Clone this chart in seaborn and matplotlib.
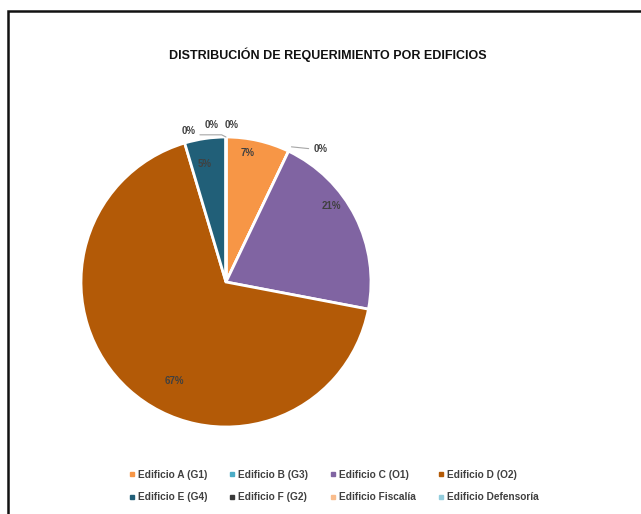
import numpy as np
import matplotlib
matplotlib.use("Agg")
import matplotlib.pyplot as plt
from matplotlib.lines import Line2D
from matplotlib.patches import Rectangle
import seaborn as sns

# ---- data ----
categories = ["Edificio A (G1)", "Edificio B (G3)", "Edificio C (O1)", "Edificio D (O2)",
              "Edificio E (G4)", "Edificio F (G2)", "Edificio Fiscalía", "Edificio Defensoría"]
shares = [7.1, 0.0, 20.9, 67.4, 4.6, 0.0, 0.0, 0.0]
colors = ["#F79646", "#4BACC6", "#8064A2", "#B35A07",
          "#215F78", "#3A3A3A", "#F9BC8C", "#93CDDD"]
title = "DISTRIBUCIÓN DE REQUERIMIENTO POR EDIFICIOS"

sns.set_theme(style="white")
plt.rcParams["font.family"] = ["Liberation Sans Narrow", "Liberation Sans", "DejaVu Sans"]
palette = sns.color_palette(colors)

W, H = 641, 514
fig = plt.figure(figsize=(W / 100, H / 100), dpi=100)
fig.patch.set_facecolor("white")

# frame (only top/left visible in reference crop)
fig.patches.append(Rectangle((8 / W, -0.2), 1.3, 1.2 - 11 / H, transform=fig.transFigure,
                             fill=False, edgecolor="#111111", linewidth=1.8, clip_on=False))

cx, cy, R = 226, 282, 145
ax = fig.add_axes([(cx - R) / W, 1 - (cy + R) / H, 2 * R / W, 2 * R / H])
wedges, _ = ax.pie(shares, colors=palette, startangle=90, counterclock=False, radius=1.0,
                   wedgeprops=dict(edgecolor="white", linewidth=2))
ax.set_xlim(-1, 1)
ax.set_ylim(-1, 1)
ax.set_aspect("equal")
ax.axis("off")

lab_kw = dict(fontsize=7, fontweight="bold", color="#404040", ha="center", va="center")
total = sum(shares)
zero_offsets = {1: (0.65, 0.92), 5: (-0.26, 1.04), 6: (-0.10, 1.08), 7: (0.04, 1.08)}
label_r = {0: 0.9, 2: 0.9, 3: 0.77, 4: 0.83}
label_frac = {0: 0.38, 2: 0.38, 3: 0.44, 4: 0.38}
for i, (w, v) in enumerate(zip(wedges, shares)):
    pct = f"{round(100 * v / total):.0f}%"
    if v > 0:
        # clockwise pie: theta2 is the start edge, theta1 the end edge
        ang = np.deg2rad(w.theta2 - label_frac[i] * (w.theta2 - w.theta1))
        r = label_r[i]
        ax.text(r * np.cos(ang), r * np.sin(ang), pct, **lab_kw)
    else:
        tx, ty = zero_offsets[i]
        ax.text(tx, ty, pct, **lab_kw)

# leader lines for zero slices
ang_b = np.deg2rad(wedges[1].theta1)
ax.plot([np.cos(ang_b) + 0.02, 0.57], [np.sin(ang_b) + 0.03, 0.92],
        color="#A6A6A6", lw=0.8, clip_on=False)
ax.plot([-0.18, -0.03, 0.0], [1.015, 1.015, 1.0], color="#A6A6A6", lw=0.8, clip_on=False)

fig.text(328 / W, 1 - 55 / H, title, fontsize=9, fontweight="bold", color="#111111",
         ha="center", va="center")

# legend filled row-wise (4 columns x 2 rows)
order = [0, 4, 1, 5, 2, 6, 3, 7]
handles = [Line2D([0], [0], marker="s", linestyle="", markersize=3.5,
                  markerfacecolor=palette[k], markeredgecolor=palette[k]) for k in order]
labels = [categories[k] for k in order]
leg = fig.legend(handles, labels, ncol=4, loc="center", bbox_to_anchor=(333 / W, 1 - 486 / H),
                 frameon=False, fontsize=7.3, handletextpad=0.2, columnspacing=2.05,
                 handlelength=0.8, labelspacing=1.25)
for t in leg.get_texts():
    t.set_fontweight("bold")
    t.set_color("#404040")

fig.savefig("out.png", dpi=100, facecolor="white")
